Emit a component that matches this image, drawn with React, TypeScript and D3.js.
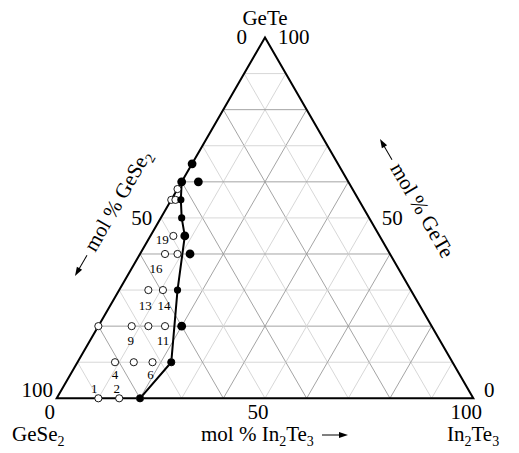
import React from 'react';
import * as d3 from 'd3';

// compositions as [mol % GeTe, mol % In2Te3]
const openSamples: [number, number][] = [
  [0, 10], [0, 15], [0, 20],
  [10, 9], [10, 13.5], [10, 18], [10, 22.5],
  [20, 0], [20, 8], [20, 12], [20, 16],
  [30, 7], [30, 10.5],
  [40, 6], [40, 9],
  [45, 5.5],
  [55, 0], [55, 1],
  [58, 0],
];
const boundaryLine: [number, number][] = [
  [0, 20], [10, 22.5], [30, 14], [45, 8.25], [50, 5], [55, 2.3], [60, 0],
];
const boundaryDots: [number, number][] = [[0, 20], [10, 22.5], [30, 14], [50, 5], [55, 2.3]];
const bigDots: [number, number][] = [[20, 20], [40, 12], [45, 8.25], [60, 0], [60, 4], [65, 0]];

const sampleLabels = [
  { id: '1', gete: 0, in2te3: 10 },
  { id: '2', gete: 0, in2te3: 15 },
  { id: '4', gete: 10, in2te3: 9 },
  { id: '6', gete: 10, in2te3: 18 },
  { id: '9', gete: 20, in2te3: 8 },
  { id: '11', gete: 20, in2te3: 16 },
  { id: '13', gete: 30, in2te3: 7 },
  { id: '14', gete: 30, in2te3: 10.5 },
  { id: '16', gete: 40, in2te3: 6 },
  { id: '19', gete: 45, in2te3: 5.5 },
];
const labelOffset: Record<string, [number, number]> = {
  '1': [-4, -5], '2': [-2.5, -5], '4': [0, 17], '6': [-2, 17], '9': [-1, 18.5],
  '11': [-2, 18.5], '13': [-3, 19.5], '14': [1, 19.5], '16': [-9, 19], '19': [-11, 8.5],
};

const baseTicks = ['0', '50', '100'];

const W = 519, H = 453;
const x0 = 56.7, x1 = 473.3, yBase = 398.3;
const side = x1 - x0;
const yTop = yBase - side * Math.sqrt(3) / 2;

const xs = d3.scaleLinear().domain([0, 100]).range([x0, x1]);
const ys = d3.scaleLinear().domain([0, 100]).range([yBase, yTop]);
const px = (gete: number, inte: number): [number, number] => [xs(inte + gete / 2), ys(gete)];

const FONT = '"Liberation Serif", "Times New Roman", serif';
const FS = 21;
const SUB = 14;

const App = () => {
  const grid = d3.range(10, 100, 10);
  const line = d3.line<[number, number]>()
    .x(d => px(d[0], d[1])[0])
    .y(d => px(d[0], d[1])[1]);

  const seg = (a: [number, number], b: [number, number]) => {
    const p = px(a[0], a[1]);
    const q = px(b[0], b[1]);
    return `M${p[0]},${p[1]}L${q[0]},${q[1]}`;
  };

  const arrowHead = (tipX: number, tipY: number, dir: number) =>
    `M${tipX},${tipY}L${tipX - dir * 9},${tipY - 3}L${tipX - dir * 9},${tipY + 3}Z`;

  const leftTip = [75, 276];
  const rightTip = [380, 139];

  return (
    <svg width={W} height={H} style={{ position: 'absolute', left: 0, top: 0, background: '#fff' }}
      fontFamily={FONT}>
      {/* grid */}
      <g fill="none">
        {grid.map(k => {
          const col = k % 20 === 0 ? '#9a9a9a' : '#d2d2d2';
          return (
            <g key={k} stroke={col} strokeWidth={0.9}>
              <path d={seg([k, 0], [k, 100 - k])} />
              <path d={seg([0, k], [100 - k, k])} />
              <path d={seg([0, 100 - k], [100 - k, 0])} />
            </g>
          );
        })}
      </g>

      {/* triangle */}
      <path d={`${seg([0, 0], [0, 100])}L${px(100, 0)[0]},${px(100, 0)[1]}Z`}
        fill="none" stroke="#000" strokeWidth={2} strokeLinejoin="miter" />

      {/* phase boundary */}
      <path d={line(boundaryLine) || ''} fill="none" stroke="#000" strokeWidth={2} />

      {openSamples.map((d, i) => {
        const [cx, cy] = px(d[0], d[1]);
        return <circle key={'o' + i} cx={cx} cy={cy} r={3.6} fill="#fff" stroke="#000" strokeWidth={0.9} />;
      })}
      {boundaryDots.map((d, i) => {
        const [cx, cy] = px(d[0], d[1]);
        return <circle key={'b' + i} cx={cx} cy={cy} r={3.6} fill="#000" />;
      })}
      {bigDots.map((d, i) => {
        const [cx, cy] = px(d[0], d[1]);
        return <circle key={'f' + i} cx={cx} cy={cy} r={4.4} fill="#000" />;
      })}

      {sampleLabels.map(s => {
        const [cx, cy] = px(s.gete, s.in2te3);
        const [dx, dy] = labelOffset[s.id];
        return (
          <text key={s.id} x={cx + dx} y={cy + dy} fontSize={13} textAnchor="middle" fill="#000">{s.id}</text>
        );
      })}

      {/* tick labels */}
      <g fontSize={FS} fill="#000">
        {baseTicks.map(t => (
          <text key={'bt' + t} x={xs(+t) - 7} y={419} textAnchor="middle">{t}</text>
        ))}
        <text x={53} y={397} textAnchor="end">{baseTicks[2]}</text>
        <text x={484} y={397}>{baseTicks[0]}</text>
        <text x={xs(50) - 18} y={44} textAnchor="end">{baseTicks[0]}</text>
        <text x={xs(50) + 13} y={44}>{baseTicks[2]}</text>
        <text x={px(50, 0)[0] - 19} y={225} textAnchor="middle">{baseTicks[1]}</text>
        <text x={px(50, 50)[0] + 23} y={225} textAnchor="middle">{baseTicks[1]}</text>
      </g>

      {/* corner labels */}
      <g fontSize={FS} fill="#000">
        <text x={xs(50)} y={25} textAnchor="middle">GeTe</text>
        <text x={12} y={441}>GeSe<tspan dy={5} fontSize={SUB}>2</tspan></text>
        <text x={447} y={441}>In<tspan dy={5} fontSize={SUB}>2</tspan><tspan dy={-5}>Te</tspan><tspan dy={5} fontSize={SUB}>3</tspan></text>
        <text x={201} y={441}>mol % In<tspan dy={5} fontSize={SUB}>2</tspan><tspan dy={-5}>Te</tspan><tspan dy={5} fontSize={SUB}>3</tspan></text>
        <line x1={322} x2={340} y1={435} y2={435} stroke="#000" strokeWidth={1} />
        <path d={arrowHead(348, 435, 1)} fill="#000" />
      </g>

      {/* left axis title */}
      <g transform={`translate(${leftTip[0]},${leftTip[1]}) rotate(-60)`} fontSize={FS} fill="#000">
        <line x1={8} x2={24} y1={0} y2={0} stroke="#000" strokeWidth={1} />
        <path d={arrowHead(0, 0, -1)} fill="#000" />
        <text x={30} y={6}>mol % GeSe<tspan dy={5} fontSize={SUB}>2</tspan></text>
      </g>

      {/* right axis title */}
      <g transform={`translate(${rightTip[0]},${rightTip[1]}) rotate(60)`} fontSize={FS} fill="#000">
        <line x1={8} x2={24} y1={0} y2={0} stroke="#000" strokeWidth={1} />
        <path d={arrowHead(0, 0, -1)} fill="#000" />
        <text x={30} y={6}>mol % GeTe</text>
      </g>
    </svg>
  );
};

export default App;
